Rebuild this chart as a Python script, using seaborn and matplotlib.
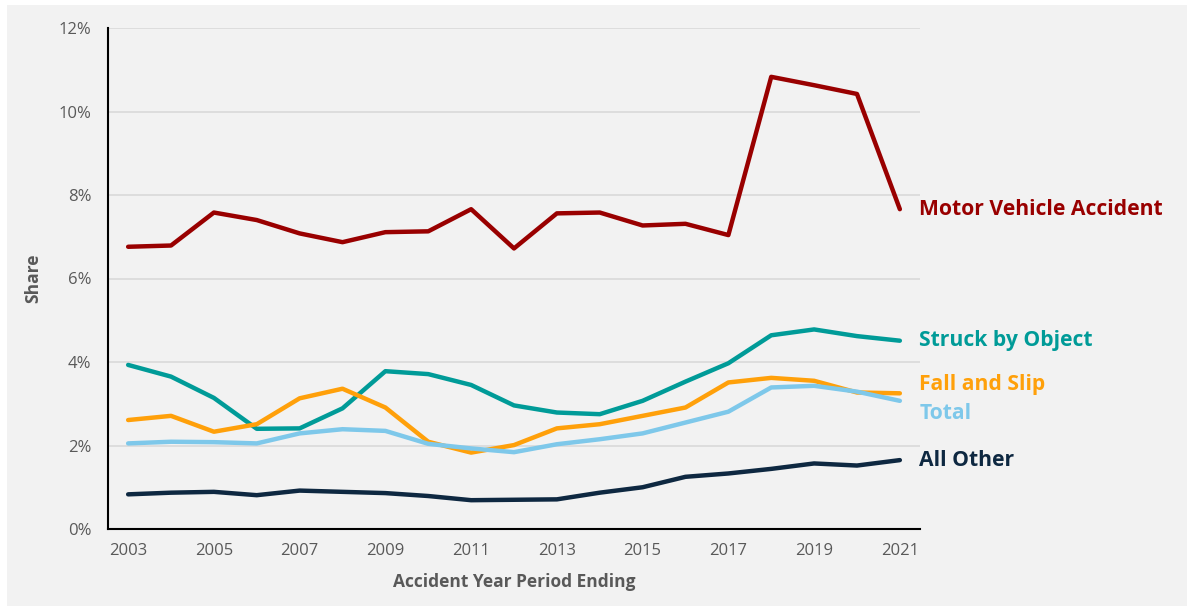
import pandas as pd
import matplotlib
matplotlib.use("Agg")
import matplotlib.pyplot as plt
import matplotlib.patches as mpatches
from matplotlib.ticker import PercentFormatter
import seaborn as sns

years = list(range(2003, 2022))

motor_vehicle = [6.76, 6.79, 7.58, 7.40, 7.08, 6.87, 7.11, 7.13, 7.66, 6.72,
                 7.56, 7.58, 7.27, 7.31, 7.04, 10.83, 10.63, 10.42, 7.66]
struck_by_object = [3.93, 3.65, 3.14, 2.40, 2.41, 2.89, 3.78, 3.71, 3.45, 2.96,
                    2.79, 2.75, 3.07, 3.53, 3.97, 4.64, 4.78, 4.62, 4.51]
fall_and_slip = [2.61, 2.71, 2.33, 2.51, 3.13, 3.36, 2.91, 2.09, 1.83, 2.01,
                 2.41, 2.51, 2.71, 2.91, 3.51, 3.62, 3.55, 3.27, 3.25]
total = [2.05, 2.09, 2.08, 2.05, 2.29, 2.39, 2.35, 2.04, 1.93, 1.84,
         2.03, 2.15, 2.29, 2.55, 2.81, 3.39, 3.43, 3.29, 3.07]
all_other = [0.83, 0.87, 0.89, 0.81, 0.92, 0.89, 0.86, 0.79, 0.69, 0.70,
             0.71, 0.87, 1.00, 1.25, 1.33, 1.44, 1.57, 1.52, 1.65]

series_names = ["Motor Vehicle Accident", "Struck by Object", "Fall and Slip",
                "Total", "All Other"]
series_values = [motor_vehicle, struck_by_object, fall_and_slip, total, all_other]
colors = ["#990000", "#009B98", "#FFA00A", "#7EC8EA", "#0E2841"]
# small vertical nudges for end labels that would collide
label_nudge = [0.0, 0.0, 0.2, -0.3, 0.0]

df = pd.concat(
    [pd.DataFrame({"Year": years, "Share": vals, "Cause": name})
     for name, vals in zip(series_names, series_values)],
    ignore_index=True,
)

sns.set_theme(style="white")
plt.rcParams["font.family"] = ["Open Sans", "DejaVu Sans"]

BG = "#F2F2F2"
GREY_TXT = "#595959"

fig = plt.figure(figsize=(11.87, 6.06), dpi=100, facecolor="white")
fig.patches.append(mpatches.Rectangle((7 / 1187, 0), 1, 1 - 5 / 606,
                                      transform=fig.transFigure,
                                      facecolor=BG, edgecolor="none", zorder=-5))
ax = fig.add_axes([108 / 1187, 1 - 529 / 606, (920 - 108) / 1187, (529 - 28) / 606])
ax.set_facecolor(BG)

sns.lineplot(data=df, x="Year", y="Share", hue="Cause", palette=colors,
             hue_order=series_names, linewidth=3.2, legend=False, ax=ax,
             zorder=3)

ax.set_xlim(2002.53, 2021.47)
ax.set_ylim(0, 12)
ax.set_xticks(years[::2])
ax.set_yticks(range(0, 13, 2))
ax.yaxis.set_major_formatter(PercentFormatter(decimals=0))
ax.grid(axis="y", color="#D9D9D9", linewidth=1.2, zorder=0)
ax.tick_params(axis="both", length=0, labelsize=12, labelcolor=GREY_TXT)
ax.tick_params(axis="x", pad=10)
ax.tick_params(axis="y", pad=12)

for side in ["top", "right"]:
    ax.spines[side].set_visible(False)
for side in ["left", "bottom"]:
    ax.spines[side].set_color("black")
    ax.spines[side].set_linewidth(1.5)

ax.set_xlabel("Accident Year Period Ending", fontsize=12.5, fontweight="bold",
              color=GREY_TXT, labelpad=10)
ax.set_ylabel("Share", fontsize=12.5, fontweight="bold", color=GREY_TXT,
              labelpad=12)

for name, vals, col, nudge in zip(series_names, series_values, colors, label_nudge):
    ax.annotate(name, xy=(years[-1], vals[-1] + nudge), xytext=(14, 0),
                textcoords="offset points", va="center", ha="left",
                fontsize=15.2, fontweight="bold", color=col,
                annotation_clip=False)

fig.savefig("out.png", dpi=100, facecolor=fig.get_facecolor())
